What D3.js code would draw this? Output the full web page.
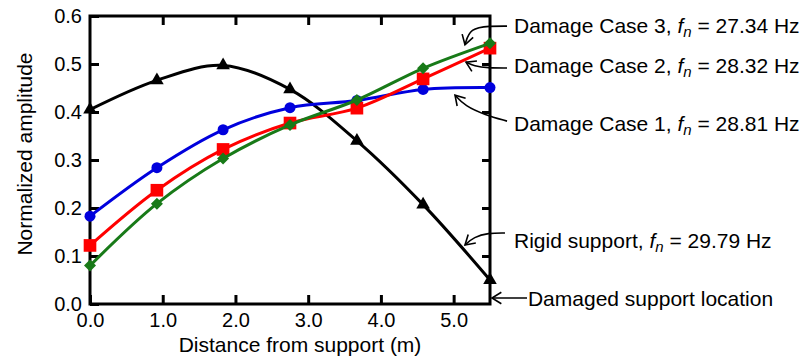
<!DOCTYPE html>
<html>
<head>
<meta charset="utf-8">
<script src="https://cdn.jsdelivr.net/npm/d3@7"></script>
<style>
  body { margin: 0; background: #fff; }
  svg text { font-family: "Liberation Sans", Arial, sans-serif; fill: #000; }
</style>
</head>
<body>
<div id="chart"></div>
<script>
// distances along the beam (m) where amplitudes were measured
var distance = [0, 0.92, 1.83, 2.75, 3.67, 4.58, 5.5];

// normalized mode shape amplitudes
var rigidSupport = [0.405, 0.466, 0.497, 0.447, 0.34, 0.207, 0.05];
var damageCase1 = [0.183, 0.284, 0.363, 0.409, 0.424, 0.447, 0.451];
var damageCase2 = [0.122, 0.237, 0.322, 0.377, 0.408, 0.469, 0.533];
var damageCase3 = [0.08, 0.209, 0.303, 0.373, 0.425, 0.491, 0.543];

var seriesNames = ["Rigid support", "Damage Case 1", "Damage Case 2", "Damage Case 3"];
var frequencies = ["29.79", "28.81", "28.32", "27.34"];

var xTicks = [0, 1, 2, 3, 4, 5];
var yTicks = [0, 0.1, 0.2, 0.3, 0.4, 0.5, 0.6];

var svgWidth = 805;
var svgHeight = 362;
var margin = {top: 16, right: 315, bottom: 58, left: 90};
var width = svgWidth - margin.left - margin.right;
var height = svgHeight - margin.top - margin.bottom;

var blue = "#0000dd";
var red = "#ff0000";
var green = "#187a18";
var black = "#000000";

var svg = d3.select("#chart")
    .append("svg")
    .attr("width", svgWidth)
    .attr("height", svgHeight);

var g = svg.append("g")
    .attr("transform", "translate(" + margin.left + "," + margin.top + ")");

var x = d3.scaleLinear().domain([0, 5.5]).range([0, width]);
var y = d3.scaleLinear().domain([0, 0.6]).range([height, 0]);

// axes, ticks pointing inwards
function styleAxis(sel) {
    sel.select(".domain").remove();
    sel.selectAll(".tick line").attr("stroke", "#000").attr("stroke-width", 3);
    sel.selectAll("text").style("font-size", "20px");
}

g.append("g")
    .attr("transform", "translate(0," + height + ")")
    .call(d3.axisBottom(x).tickValues(xTicks).tickFormat(d3.format(".1f"))
        .tickSizeInner(-9).tickSizeOuter(0).tickPadding(9))
    .call(styleAxis);

g.append("g")
    .call(d3.axisTop(x).tickValues(xTicks.slice(1)).tickFormat("")
        .tickSizeInner(-9).tickSizeOuter(0))
    .call(styleAxis);

g.append("g")
    .call(d3.axisLeft(y).tickValues(yTicks).tickFormat(d3.format(".1f"))
        .tickSizeInner(-9).tickSizeOuter(0).tickPadding(8))
    .call(styleAxis);

g.append("g")
    .attr("transform", "translate(" + width + ",0)")
    .call(d3.axisRight(y).tickValues(yTicks.slice(1, -1)).tickFormat("")
        .tickSizeInner(-8).tickSizeOuter(0))
    .call(styleAxis);

g.append("rect")
    .attr("width", width)
    .attr("height", height)
    .attr("fill", "none")
    .attr("stroke", "#000")
    .attr("stroke-width", 3);

// axis titles
svg.append("text")
    .attr("x", margin.left + width / 2 + 10)
    .attr("y", 352)
    .attr("text-anchor", "middle")
    .style("font-size", "21px")
    .text("Distance from support (m)");

svg.append("text")
    .attr("transform", "translate(32," + 154 + ") rotate(-90)")
    .attr("text-anchor", "middle")
    .style("font-size", "21px")
    .text("Normalized amplitude");

// series
var series = [
    {values: rigidSupport, color: black, marker: "triangle"},
    {values: damageCase1, color: blue, marker: "circle"},
    {values: damageCase2, color: red, marker: "square"},
    {values: damageCase3, color: green, marker: "diamond"}
];

var line = d3.line()
    .x(function(d) { return x(d[0]); })
    .y(function(d) { return y(d[1]); })
    .curve(d3.curveCatmullRom.alpha(0.5));

var symbols = {
    triangle: {sym: d3.symbol().type(d3.symbolTriangle).size(80), rot: 0},
    circle: {sym: d3.symbol().type(d3.symbolCircle).size(95), rot: 0},
    square: {sym: d3.symbol().type(d3.symbolSquare).size(160), rot: 0},
    diamond: {sym: d3.symbol().type(d3.symbolSquare).size(72), rot: 45}
};

series.forEach(function(s) {
    var pts = distance.map(function(d, i) { return [d, s.values[i]]; });
    var m = symbols[s.marker];
    g.append("path")
        .datum(pts)
        .attr("fill", "none")
        .attr("stroke", s.color)
        .attr("stroke-width", 3)
        .attr("d", line);
    g.selectAll(null)
        .data(pts)
        .enter().append("path")
        .attr("transform", function(d) {
            return "translate(" + x(d[0]) + "," + y(d[1]) + ") rotate(" + m.rot + ")";
        })
        .attr("fill", s.color)
        .attr("d", m.sym());
});

// annotations, arrows given in data units (tip is the last point)
var annotations = [
    {label: seriesNames[3], freq: frequencies[3], at: [5.83, 0.5646],
     arrow: [[5.734, 0.579], [5.5, 0.579], [5.225, 0.575], [5.156, 0.54]]},
    {label: seriesNames[2], freq: frequencies[2], at: [5.83, 0.4812],
     arrow: [[5.734, 0.4917], [5.472, 0.4917], [5.28, 0.4958], [5.17, 0.504]]},
    {label: seriesNames[1], freq: frequencies[1], at: [5.83, 0.3604],
     arrow: [[5.734, 0.381], [5.431, 0.394], [5.156, 0.4125], [5.019, 0.435]]},
    {label: seriesNames[0], freq: frequencies[0], at: [5.83, 0.1167],
     arrow: [[5.706, 0.148], [5.472, 0.148], [5.28, 0.1396], [5.156, 0.123]]},
    {label: "Damaged support location", freq: null, at: [6.022, -0.0042],
     arrow: [[6.009, 0.0125], [5.527, 0.0125]]}
];

var arrowLine = d3.line()
    .x(function(d) { return x(d[0]); })
    .y(function(d) { return y(d[1]); })
    .curve(d3.curveBasis);

annotations.forEach(function(a) {
    g.append("path")
        .datum(a.arrow)
        .attr("fill", "none")
        .attr("stroke", "#000")
        .attr("stroke-width", 1.6)
        .attr("d", arrowLine);

    var n = a.arrow.length;
    var tip = [x(a.arrow[n - 1][0]), y(a.arrow[n - 1][1])];
    var prev = [x(a.arrow[n - 2][0]), y(a.arrow[n - 2][1])];
    var ang = Math.atan2(prev[1] - tip[1], prev[0] - tip[0]);
    var len = 11, spread = 0.55;
    g.append("path")
        .attr("fill", "none")
        .attr("stroke", "#000")
        .attr("stroke-width", 1.6)
        .attr("d", "M" + (tip[0] + len * Math.cos(ang - spread)) + "," + (tip[1] + len * Math.sin(ang - spread)) +
            "L" + tip[0] + "," + tip[1] +
            "L" + (tip[0] + len * Math.cos(ang + spread)) + "," + (tip[1] + len * Math.sin(ang + spread)));

    var t = g.append("text")
        .attr("x", x(a.at[0]))
        .attr("y", y(a.at[1]))
        .style("font-size", "21px");
    if (a.freq) {
        t.append("tspan").text(a.label + ", ");
        t.append("tspan").style("font-style", "italic").text("f");
        t.append("tspan").style("font-style", "italic").style("font-size", "15px").attr("dy", 4).text("n");
        t.append("tspan").attr("dy", -4).text(" = " + a.freq + " Hz");
    } else {
        t.text(a.label);
    }
});
</script>
</body>
</html>
